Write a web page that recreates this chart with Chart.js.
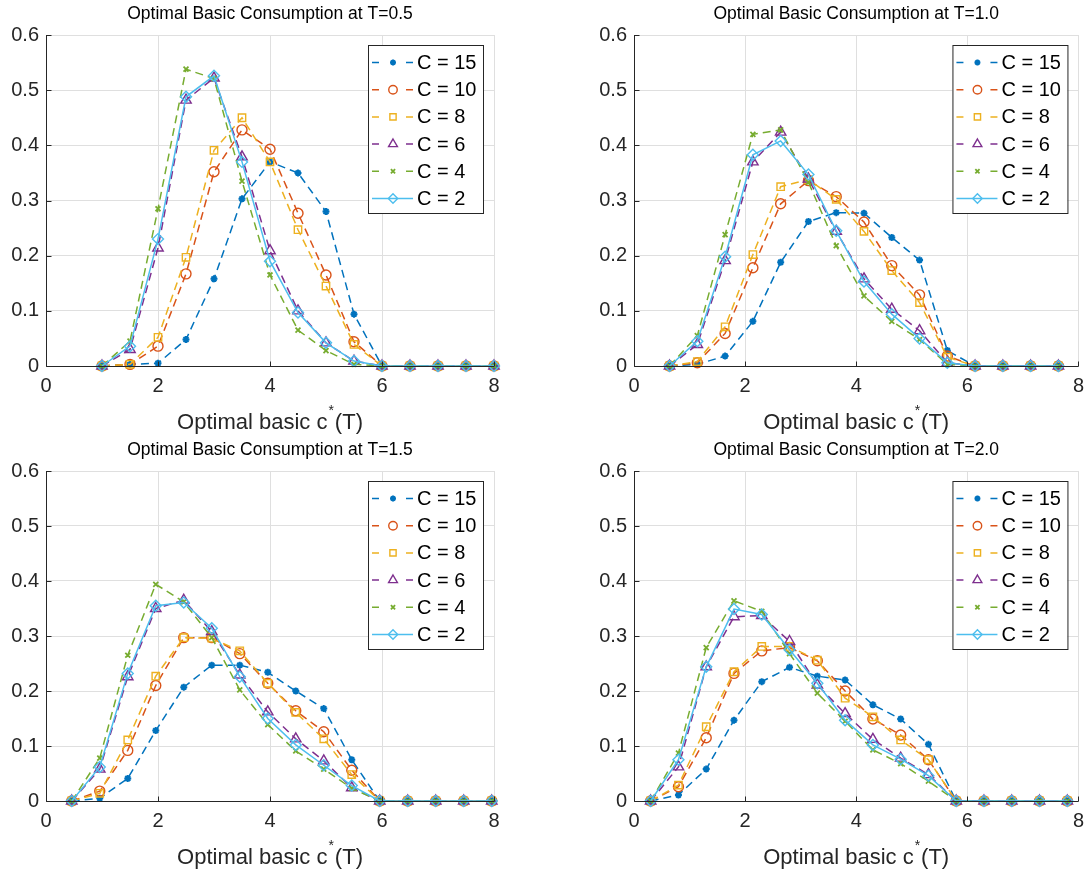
<!DOCTYPE html>
<html>
<head>
<meta charset="utf-8">
<script src="https://cdn.jsdelivr.net/npm/chart.js@4.4.1/dist/chart.umd.min.js"></script>
<style>
  html, body { margin: 0; padding: 0; background: #fff; }
  #wrap { position: relative; width: 1092px; height: 879px; overflow: hidden; }
  canvas { position: absolute; }
</style>
</head>
<body>
<div id="wrap">
  <canvas id="p1" width="546" height="440" style="left:0px;top:0px"></canvas>
  <canvas id="p2" width="504" height="440" style="left:588px;top:0px"></canvas>
  <canvas id="p3" width="546" height="443" style="left:0px;top:436px"></canvas>
  <canvas id="p4" width="504" height="443" style="left:588px;top:436px"></canvas>
</div>
<script>
// series names and tick labels
const seriesLabels = ['C = 15', 'C = 10', 'C = 8', 'C = 6', 'C = 4', 'C = 2'];
const yTickLabels = ['0', '0.1', '0.2', '0.3', '0.4', '0.5', '0.6'];
const xTickLabels = ['0', '2', '4', '6', '8'];
const panelTitles = [
  'Optimal Basic Consumption at T=0.5',
  'Optimal Basic Consumption at T=1.0',
  'Optimal Basic Consumption at T=1.5',
  'Optimal Basic Consumption at T=2.0'
];

// T = 0.5
const xT05 = [1, 1.5, 2, 2.5, 3, 3.5, 4, 4.5, 5, 5.5, 6, 6.5, 7, 7.5, 8];
const yT05 = [
  [0, 0.003, 0.005, 0.048, 0.158, 0.303, 0.370, 0.350, 0.280, 0.094, 0, 0, 0, 0, 0],
  [0, 0.003, 0.036, 0.167, 0.352, 0.428, 0.393, 0.277, 0.165, 0.044, 0, 0, 0, 0, 0],
  [0, 0.003, 0.052, 0.197, 0.391, 0.450, 0.370, 0.247, 0.145, 0.039, 0, 0, 0, 0, 0],
  [0, 0.030, 0.214, 0.482, 0.522, 0.379, 0.209, 0.100, 0.042, 0.009, 0, 0, 0, 0, 0],
  [0, 0.045, 0.285, 0.538, 0.521, 0.335, 0.165, 0.065, 0.028, 0.003, 0, 0, 0, 0, 0],
  [0, 0.036, 0.230, 0.488, 0.526, 0.370, 0.190, 0.097, 0.042, 0.009, 0, 0, 0, 0, 0]
];

// T = 1.0
const xT10 = [0.64, 1.14, 1.64, 2.14, 2.64, 3.14, 3.64, 4.14, 4.64, 5.14, 5.64, 6.14, 6.64, 7.14, 7.64];
const yT10 = [
  [0, 0.003, 0.018, 0.081, 0.188, 0.262, 0.278, 0.277, 0.233, 0.192, 0.028, 0, 0, 0, 0],
  [0, 0.006, 0.059, 0.178, 0.294, 0.336, 0.307, 0.261, 0.182, 0.129, 0.018, 0, 0, 0, 0],
  [0, 0.008, 0.071, 0.202, 0.325, 0.338, 0.302, 0.244, 0.173, 0.115, 0.016, 0, 0, 0, 0],
  [0, 0.039, 0.191, 0.370, 0.424, 0.339, 0.244, 0.158, 0.103, 0.064, 0.006, 0, 0, 0, 0],
  [0, 0.055, 0.238, 0.420, 0.428, 0.333, 0.218, 0.127, 0.081, 0.048, 0.003, 0, 0, 0, 0],
  [0, 0.045, 0.198, 0.383, 0.408, 0.347, 0.245, 0.153, 0.094, 0.050, 0.006, 0, 0, 0, 0]
];

// T = 1.5
const xT15 = [0.46, 0.96, 1.46, 1.96, 2.46, 2.96, 3.46, 3.96, 4.46, 4.96, 5.46, 5.96, 6.46, 6.96, 7.46, 7.96];
const yT15 = [
  [0, 0.005, 0.041, 0.128, 0.207, 0.247, 0.247, 0.234, 0.200, 0.168, 0.075, 0, 0, 0, 0, 0],
  [0, 0.018, 0.092, 0.210, 0.297, 0.297, 0.268, 0.214, 0.164, 0.126, 0.056, 0, 0, 0, 0, 0],
  [0, 0.014, 0.111, 0.227, 0.297, 0.296, 0.273, 0.214, 0.161, 0.113, 0.048, 0, 0, 0, 0, 0],
  [0, 0.058, 0.226, 0.350, 0.365, 0.308, 0.229, 0.162, 0.113, 0.073, 0.024, 0, 0, 0, 0, 0],
  [0, 0.078, 0.265, 0.394, 0.362, 0.297, 0.202, 0.139, 0.091, 0.058, 0.023, 0, 0, 0, 0, 0],
  [0, 0.062, 0.232, 0.355, 0.361, 0.314, 0.226, 0.150, 0.102, 0.065, 0.028, 0, 0, 0, 0, 0]
];

// T = 2.0
const xT20 = [0.3, 0.8, 1.3, 1.8, 2.3, 2.8, 3.3, 3.8, 4.3, 4.8, 5.3, 5.8, 6.3, 6.8, 7.3, 7.8];
const yT20 = [
  [0, 0.011, 0.058, 0.147, 0.217, 0.243, 0.227, 0.220, 0.175, 0.149, 0.103, 0, 0, 0, 0, 0],
  [0, 0.026, 0.115, 0.232, 0.273, 0.279, 0.255, 0.200, 0.149, 0.120, 0.075, 0, 0, 0, 0, 0],
  [0, 0.029, 0.135, 0.235, 0.281, 0.281, 0.256, 0.187, 0.153, 0.111, 0.075, 0, 0, 0, 0, 0],
  [0, 0.062, 0.244, 0.335, 0.337, 0.290, 0.211, 0.159, 0.112, 0.078, 0.048, 0, 0, 0, 0, 0],
  [0, 0.087, 0.279, 0.364, 0.345, 0.268, 0.196, 0.145, 0.093, 0.068, 0.036, 0, 0, 0, 0, 0],
  [0, 0.075, 0.244, 0.349, 0.339, 0.275, 0.214, 0.147, 0.102, 0.076, 0.046, 0, 0, 0, 0, 0]
];

// matlab-ish look
const colors = ['#0072BD', '#D95319', '#EDB120', '#7E2F8E', '#77AC30', '#4DBEEE'];
const markers = ['star', 'circle', 'rect', 'triangle', 'crossRot', 'rectRot'];
const markerSize = [3.5, 5, 5.2, 6, 3.5, 5.5];
const markerWidth = [2, 1.4, 1.4, 1.4, 1.8, 1.4];
const dashed = [true, true, true, true, true, false];
const FONT = "'Liberation Sans', Arial, sans-serif";
const AXIS = '#262626';

// legend drawn inside the axes, top right
const insideLegend = {
  id: 'insideLegend',
  afterDatasetsDraw(chart) {
    const { ctx, chartArea } = chart;
    const w = 115, h = 168;
    const bx = chartArea.right - 11 - w, by = chartArea.top + 10;
    ctx.save();
    ctx.fillStyle = '#fff';
    ctx.fillRect(bx, by, w, h);
    ctx.strokeStyle = AXIS;
    ctx.lineWidth = 1;
    ctx.strokeRect(bx + 0.5, by + 0.5, w, h);
    chart.data.datasets.forEach((ds, i) => {
      const y = by + 17.5 + i * 27.2;
      ctx.strokeStyle = ds.borderColor;
      ctx.lineWidth = 1.5;
      ctx.setLineDash([]);
      ctx.beginPath();
      if (dashed[i]) {
        ctx.moveTo(bx + 4, y); ctx.lineTo(bx + 11, y);
        ctx.moveTo(bx + 38, y); ctx.lineTo(bx + 45, y);
      } else {
        ctx.moveTo(bx + 4, y); ctx.lineTo(bx + 45, y);
      }
      ctx.stroke();
      ctx.fillStyle = i === 0 ? ds.borderColor : 'rgba(0,0,0,0)';
      ctx.lineWidth = markerWidth[i];
      Chart.helpers.drawPoint(ctx, {
        pointStyle: ds.pointStyle, radius: ds.pointRadius * 0.85,
        borderWidth: markerWidth[i], rotation: 0
      }, bx + 25, y);
      ctx.fillStyle = '#000';
      ctx.font = '20px ' + FONT;
      ctx.textAlign = 'left';
      ctx.textBaseline = 'middle';
      ctx.fillText(seriesLabels[i], bx + 49, y + 1);
    });
    ctx.restore();
  }
};

// axis lines on top, inward tick marks, x label with superscript
const matlabAxes = {
  id: 'matlabAxes',
  afterDatasetsDraw(chart) {
    const { ctx, chartArea, scales } = chart;
    ctx.save();
    ctx.strokeStyle = AXIS;
    ctx.lineWidth = 1;
    ctx.beginPath();
    const L = Math.round(chartArea.left) + 0.5, B = Math.round(chartArea.bottom) + 0.5;
    ctx.moveTo(L, chartArea.top); ctx.lineTo(L, B); ctx.lineTo(chartArea.right, B);
    yTickLabels.forEach(t => {
      const py = Math.round(scales.y.getPixelForValue(Number(t))) + 0.5;
      ctx.moveTo(L, py); ctx.lineTo(L + 5, py);
    });
    xTickLabels.forEach(t => {
      const px = Math.round(scales.x.getPixelForValue(Number(t))) + 0.5;
      ctx.moveTo(px, B); ctx.lineTo(px, B - 5);
    });
    ctx.stroke();

    // x axis title: Optimal basic c^*(T)
    const cx = (chartArea.left + chartArea.right) / 2;
    const ty = chartArea.bottom + 57;
    const big = '22px ' + FONT, small = '14px ' + FONT;
    ctx.font = big;
    const a = 'Optimal basic c', c = '(T)';
    const wa = ctx.measureText(a).width, wc = ctx.measureText(c).width;
    ctx.font = small;
    const wb = ctx.measureText('*').width + 2;
    let x0 = cx - (wa + wb + wc) / 2;
    ctx.fillStyle = AXIS;
    ctx.textAlign = 'left';
    ctx.textBaseline = 'middle';
    ctx.font = big;
    ctx.fillText(a, x0, ty);
    ctx.font = small;
    ctx.fillText('*', x0 + wa + 1, ty - 12);
    ctx.font = big;
    ctx.fillText(c, x0 + wa + wb, ty);
    ctx.restore();
  }
};

function makePanel(id, title, xs, ys, padRight, canvasH, areaBottom) {
  const datasets = ys.map((vals, i) => ({
    label: seriesLabels[i],
    data: xs.map((x, k) => ({ x: x, y: vals[k] })),
    borderColor: colors[i],
    backgroundColor: 'rgba(0,0,0,0)',
    pointBackgroundColor: i === 0 ? colors[i] : 'rgba(0,0,0,0)',
    borderWidth: 1.5,
    borderDash: dashed[i] ? [8, 5] : [],
    pointStyle: markers[i],
    pointRadius: markerSize[i],
    pointBorderWidth: markerWidth[i],
    pointHoverRadius: markerSize[i],
    tension: 0,
    clip: false,
    order: 5 - i
  }));

  return new Chart(document.getElementById(id), {
    type: 'line',
    data: { datasets: datasets },
    options: {
      responsive: false,
      animation: false,
      devicePixelRatio: 1,
      layout: { padding: { left: 0, right: padRight, top: 0, bottom: 0 } },
      plugins: {
        legend: { display: false },
        tooltip: { enabled: false },
        title: {
          display: true,
          fullSize: false,
          text: title,
          color: '#000',
          font: { family: FONT, size: 17.5, weight: 'normal', lineHeight: 1.2 },
          padding: { top: 4, bottom: 10 }
        }
      },
      scales: {
        x: {
          type: 'linear',
          min: 0, max: 8,
          afterFit: s => { s.height = canvasH - areaBottom; },
          afterBuildTicks: s => { s.ticks = xTickLabels.map(t => ({ value: Number(t) })); },
          ticks: {
            color: AXIS, padding: 8,
            font: { family: FONT, size: 20 },
            callback: (v, i) => xTickLabels[i]
          },
          grid: { color: '#dfdfdf', drawTicks: false },
          border: { display: false }
        },
        y: {
          min: 0, max: 0.6,
          afterFit: s => { s.width = 46; },
          afterBuildTicks: s => { s.ticks = yTickLabels.map(t => ({ value: Number(t) })); },
          ticks: {
            color: AXIS, padding: 7,
            font: { family: FONT, size: 20 },
            callback: (v, i) => yTickLabels[i]
          },
          grid: { color: '#dfdfdf', drawTicks: false },
          border: { display: false }
        }
      }
    },
    plugins: [matlabAxes, insideLegend]
  });
}

makePanel('p1', panelTitles[0], xT05, yT05, 52, 440, 366);
makePanel('p2', panelTitles[1], xT10, yT10, 10, 440, 366);
makePanel('p3', panelTitles[2], xT15, yT15, 52, 443, 365);
makePanel('p4', panelTitles[3], xT20, yT20, 10, 443, 365);
</script>
</body>
</html>
